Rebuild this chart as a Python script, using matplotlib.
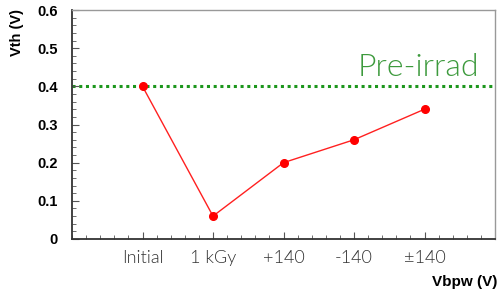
import matplotlib.pyplot as plt
from matplotlib.ticker import MultipleLocator

# data
categories = ['Initial', '1 kGy', '+140', '-140', '\u00b1140']
vth = [0.40, 0.06, 0.20, 0.26, 0.34]
pre_irrad = 0.40

fig = plt.figure(figsize=(4.99, 2.96), dpi=100)
ax = fig.add_axes([72 / 499, 57 / 296, 423 / 499, 229 / 296])

xs = list(range(1, len(categories) + 1))
ax.axhline(pre_irrad, color='#1c961c', ls=(0, (1, 1.2)), lw=2.2, zorder=1)
ax.plot(xs, vth, color='#ff2020', lw=1, marker='o', ms=5.5, mfc='#ff0000', mec='#ff0000', zorder=3)

ax.text(5.77, 0.428, 'Pre-irrad', color='#3d9a3d', fontsize=23, family='Lato',
        fontweight=300, ha='right', va='baseline')

ax.set_xlim(0, 6)
ax.set_ylim(0, 0.6)
ax.set_xticks(xs)
ax.set_xticklabels(categories, fontsize=13, color='#333333', family='Lato', fontweight=300)
ax.xaxis.set_minor_locator(MultipleLocator(0.2))
ax.set_yticks([0, 0.1, 0.2, 0.3, 0.4, 0.5, 0.6])
ax.set_yticklabels(['0', '0.1', '0.2', '0.3', '0.4', '0.5', '0.6'],
                   fontsize=10.5, fontweight='bold', family='Liberation Sans')
ax.yaxis.set_minor_locator(MultipleLocator(0.02))

ax.tick_params(which='both', direction='in', top=False, right=False, color='#555555')
ax.tick_params(which='major', length=5, width=0.8)
ax.tick_params(which='minor', length=3, width=0.6)
ax.tick_params(axis='x', pad=8)
ax.tick_params(axis='y', pad=10)

for s in ['left', 'bottom']:
    ax.spines[s].set_color('#333333')
    ax.spines[s].set_linewidth(1.3)
for s in ['top', 'right']:
    ax.spines[s].set_color('#999999')
    ax.spines[s].set_linewidth(1)

fig.text(17 / 499, 1 - 32 / 296, 'Vth (V)', rotation=90, fontsize=10.5, fontweight='bold',
         family='Liberation Sans', ha='center', va='center')
fig.text(497 / 499, 1 - 282 / 296, 'Vbpw (V)', fontsize=11, fontweight='bold',
         family='Liberation Sans', ha='right', va='center')

fig.savefig('out.png', dpi=100)
